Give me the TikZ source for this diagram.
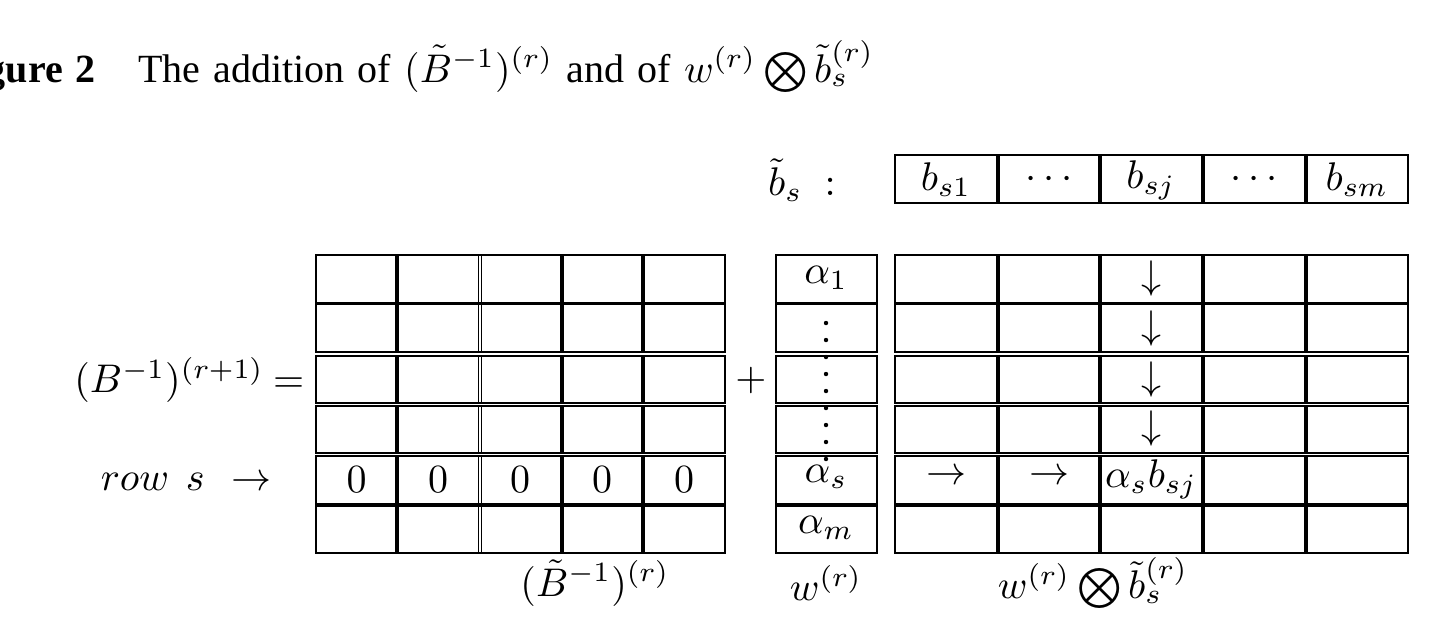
\documentclass[tikz,border=0pt]{standalone}
\usepackage{fontspec}
\setmainfont{Liberation Serif}
\usepackage{amssymb}

\begin{document}
\begin{tikzpicture}[x=0.25pt,y=-0.25pt]
\useasboundingbox (0,0) rectangle (1432,634);
% Caption line (its left end is cut off by the frame)
\node [anchor=base west, inner sep=0pt, font=\fontsize{10}{12}\selectfont] (title) at (-15,82)
  {\spaceskip=3.3pt plus 1pt\textbf{gure 2}\hspace{10.5pt}The addition of $(\tilde{B}^{-1})^{(r)}$ and of $w^{(r)}\bigotimes\tilde{b}_s^{(r)}$};

% The row b_s on top
\draw (895,155) rectangle (1408,203);
\draw [line width=0.7pt] (895,203) -- (1408,203);
\foreach \x in {998,1100,1203,1306} \draw [thick] (\x,155) -- (\x,203);
\node (bslbl) at (802,180) {$\tilde{b}_s\;:$};
\node (bs1) at (946,180) {$b_{s1}$};
\node (bsd1) at (1049,180) {$\cdots$};
\node (bsj) at (1151,180) {$b_{sj}$};
\node (bsd2) at (1254,180) {$\cdots$};
\node (bsm) at (1357,180) {$b_{sm}$};

% The three tables, one box per row
\foreach \top/\bot in {255/302.5, 304/352, 356/403, 406/453, 456/505, 505/553} {
  \draw (316,\top) rectangle (725,\bot);
  \draw (776,\top) rectangle (877,\bot);
  \draw (895,\top) rectangle (1408,\bot);
  \foreach \x in {397,562,643} \draw [thick] (\x,\top) -- (\x,\bot);
  \draw (478.5,\top) -- (478.5,\bot) (481.5,\top) -- (481.5,\bot);
  \foreach \x in {998,1100,1203,1306} \draw [thick] (\x,\top) -- (\x,\bot);
}
\draw [line width=1.1pt] (316,505) -- (725,505) (776,505) -- (877,505) (895,505) -- (1408,505);

% Left side
\node [anchor=east, inner sep=0pt] (lhs) at (305,380) {$(B^{-1})^{(r+1)}\hspace{-0.5pt}=$};
\node [anchor=base west, inner sep=0pt] (rowlbl) at (100,490) {$row\hspace{4.2pt}s\hspace{4pt}\rightarrow$};
\node (plus) at (751,380) {$+$};

% Zero row
\foreach \x [count=\i] in {356.5,438,520,602,684}
  \node (zero\i) at (\x,480) {$0$};

% Column w
\node (alpha1) at (826,278) {$\alpha_1$};
\foreach \y in {323,340,...,459} \fill (826,\y) circle [radius=0.55pt];
\node (alphas) at (826,477) {$\alpha_s$};
\node (alpham) at (826,528) {$\alpha_m$};

% Product table
\foreach \y [count=\i] in {278,328,379,428}
  \node (down\i) at (1151,\y) {$\downarrow$};
\node (right1) at (946,477) {$\rightarrow$};
\node (right2) at (1049,477) {$\rightarrow$};
\node [inner sep=0pt] (asbsj) at (1151,479) {$\alpha_s b_{sj}$};

% Labels below
\node (lblB) at (595,583) {$(\tilde{B}^{-1})^{(r)}$};
\node (lblw) at (826,583) {$w^{(r)}$};
\node (lblwb) at (1093,583) {$w^{(r)}\bigotimes\tilde{b}_s^{(r)}$};
\end{tikzpicture}
\end{document}
